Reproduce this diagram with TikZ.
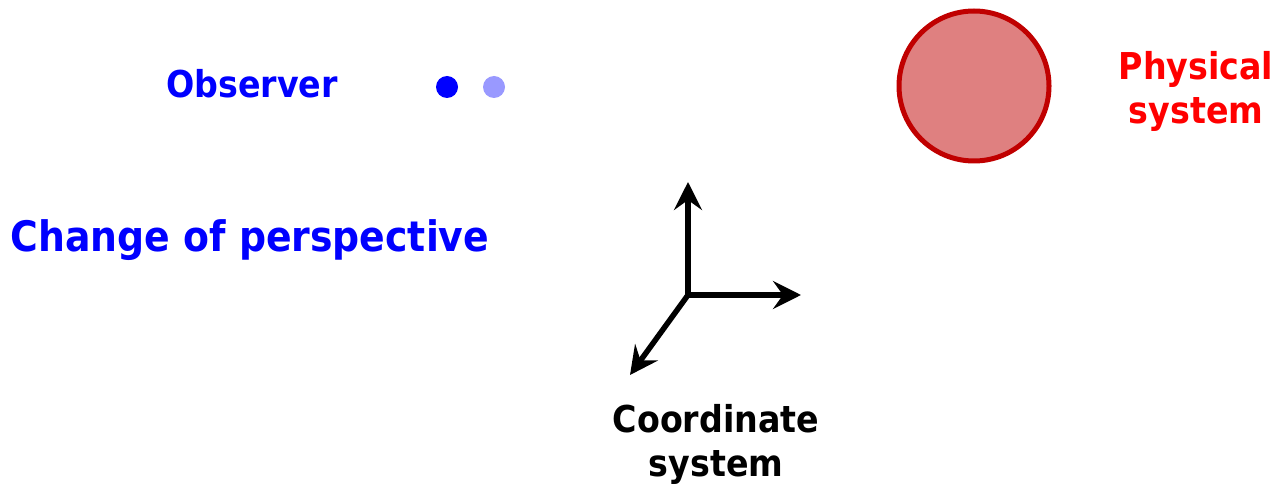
\documentclass[tikz,border=0pt]{standalone}
\usepackage{fontspec}
\setmainfont{DejaVu Sans Condensed}
\usetikzlibrary{arrows.meta}
\definecolor{obsblue}{RGB}{0,0,255}
\definecolor{obslight}{RGB}{153,153,255}
\definecolor{sysred}{RGB}{255,0,0}
\definecolor{sysedge}{RGB}{192,0,0}
\definecolor{sysfill}{RGB}{223,128,128}
\begin{document}
\begin{tikzpicture}[x=1pt,y=-1pt,
  label/.style={font=\bfseries\fontsize{37}{44}\selectfont, inner sep=0pt, align=center},
  axis/.style={line width=5.5pt, -{Stealth[length=28pt,width=28pt,inset=10pt]}},
  dot/.style={circle, inner sep=0pt, minimum size=22pt}]
\useasboundingbox (0,0) rectangle (1277,486);
% observer and its second position
\node[label, text=obsblue] (obs) at (252,84) {Observer};
\node[dot, fill=obsblue] (d1) at (447,87) {};
\node[dot, fill=obslight] (d2) at (494,87) {};
\node[label, text=obsblue, font=\bfseries\fontsize{42}{48}\selectfont] (chg) at (250,240) {Change of perspective};
% physical system
\node[circle, draw=sysedge, fill=sysfill, line width=5pt, minimum size=150pt, inner sep=0pt] (sys) at (974,86) {};
\node[label, text=sysred] (phys) at (1196,91) {Physical\\system};
% coordinate axes
\coordinate (o) at (688,295);
\coordinate (ex) at (801,295);
\coordinate (ey) at (688,182);
\coordinate (ez) at (630,375);
\draw[axis] (o) -- (ey);
\draw[axis] (o) -- (ex);
\draw[axis] (o) -- (ez);
\node[label, text=black] (cs) at (716,444) {Coordinate\\system};
\end{tikzpicture}
\end{document}
